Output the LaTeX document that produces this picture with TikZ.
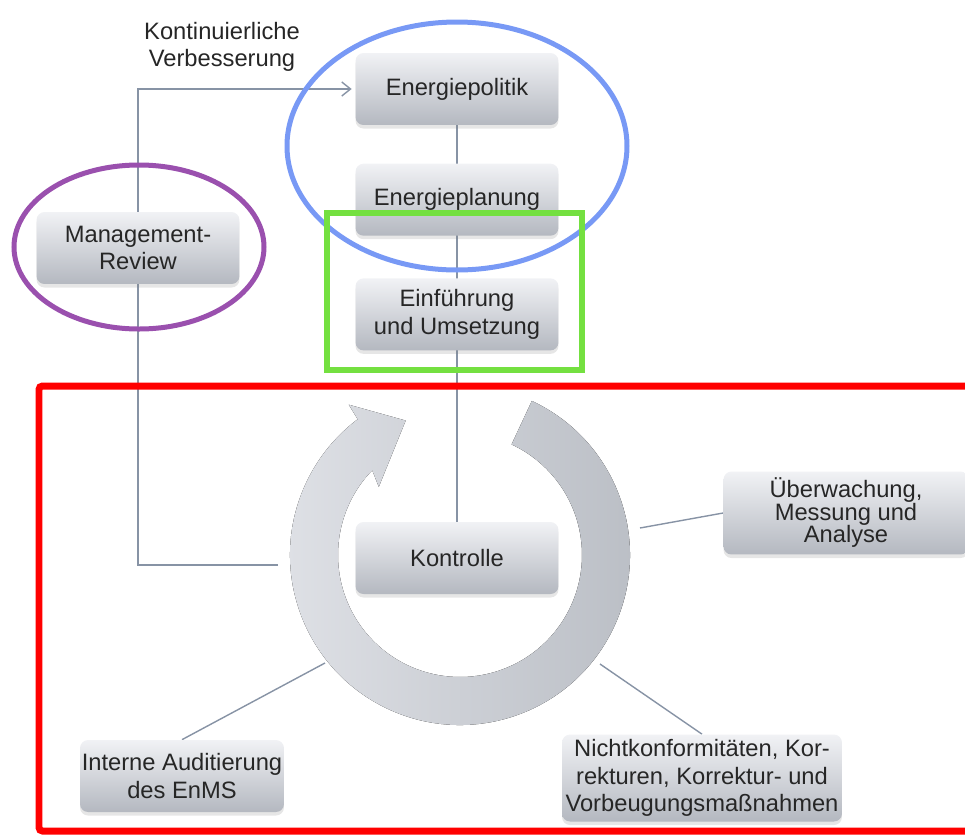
\documentclass[tikz,border=0pt]{standalone}
\usepackage{fontspec}
\setmainfont{Liberation Sans}
\usepackage{tikz}
\usetikzlibrary{arrows.meta,
                backgrounds,
                positioning,
                shadows}
\definecolor{boxtop}{HTML}{F1F2F5}
\definecolor{boxbot}{HTML}{B4B8C0}
\definecolor{ringL}{HTML}{E0E2E7}
\definecolor{ringR}{HTML}{B9BDC4}
\definecolor{lineC}{HTML}{8793A5}
\definecolor{markB}{HTML}{7899F5}
\definecolor{markP}{HTML}{9A50AE}
\definecolor{markG}{HTML}{74E040}

\begin{document}
\begin{tikzpicture}[x=0.02cm, y=-0.02cm,
font = \fontsize{13.5}{15.5}\selectfont,
   BOX/.style = {rounded corners=0.16cm, top color=boxtop, bottom color=boxbot,
                 minimum width=4.06cm, minimum height=1.44cm,
                 align=center, inner sep=1pt, text=black!85,
                 drop shadow={opacity=0.2, shadow xshift=0pt, shadow yshift=-2pt}},
  CONN/.style = {draw=lineC, line width=0.8pt},%connector
    MB/.style = {draw=markB, line width=0.1cm},%mark  Blue
    MP/.style = {draw=markP, line width=0.1cm},%mark  Purple
    MG/.style = {draw=markG, line width=0.12cm},%mark Green
    MR/.style = {draw=red, line width=0.14cm, rounded corners=2pt}%mark Red
                        ]
\useasboundingbox (0,0) rectangle (965,836);
% ring with arrow
\coordinate (rc) at (460,555);
\begin{scope}[shift={(rc)}, x=0.02cm, y=0.02cm]
\fill[left color=ringL, right color=ringR]
    (65:170) arc[start angle=65, end angle=-233, radius=170]
    -- (126.5:187) -- (112:145) -- (140:106)
    -- (-224:122) arc[start angle=-224, end angle=65, radius=122] -- cycle;
\end{scope}
% boxes
\node[BOX] (ep)  at (457,89) {Energiepolitik};
\node[BOX, below=0.76cm of ep]  (epl) {Energieplanung};
\node[BOX, below=0.84cm of epl] (eu)  {Einführung\\und Umsetzung};
\node[BOX] (mr)  at (138,248) {Management-\\Review};
\node[BOX] (ko)  at (457,558) {Kontrolle};
\node[BOX, minimum width=4.9cm, minimum height=1.66cm,
      font=\fontsize{13.5}{12.8}\selectfont] (uma) at (846,513)
      {Überwachung,\\Messung und\\Analyse};
\node[BOX, minimum width=5.6cm, minimum height=1.74cm] (nk) at (702,778)
      {Nichtkonformitäten, Kor-\\rekturen, Korrektur- und\\Vorbeugungsmaßnahmen};
\node[BOX] (ia)  at (182,776) {Interne Auditierung\\des EnMS};
\node[align=center, text=black!85] (kv) at (222,47) {Kontinuierliche\\Verbesserung};
% connectors
\coordinate (r-k) at (278,565);
\coordinate (r-u) at (640,528);
\coordinate (r-n) at (600,664);
\coordinate (r-i) at (325,663);
\begin{pgfonlayer}{background}
\draw[CONN] (ep) -- (ko);
\draw[CONN, -{Straight Barb[length=5pt, width=8pt]}, shorten >=2pt]
      (r-k) -| (mr.center) |- (ep.west);
\draw[CONN] (r-u) -- (uma.west);
\draw[CONN] (r-n) -- (nk.north);
\draw[CONN] (r-i) -- (ia.north);
\end{pgfonlayer}
% marks
\draw[MB] (457,146) ellipse [x radius=170, y radius=124];
\draw[MP] (139,247) ellipse [x radius=125, y radius=82];
\draw[MG] (327,213) rectangle (582,370);
\draw[MR] (39,386) rectangle (985,831);
\end{tikzpicture}
\end{document}
